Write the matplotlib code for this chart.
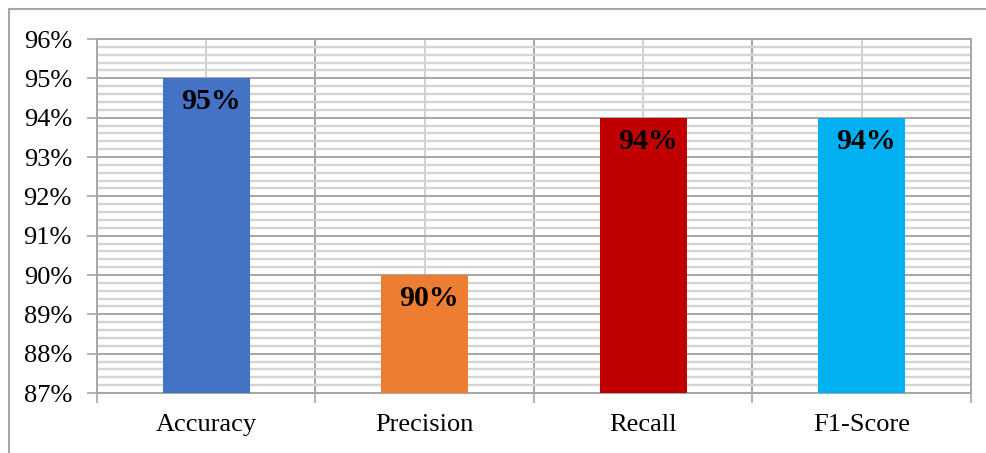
import numpy as np
from matplotlib import pyplot as plt
from matplotlib.lines import Line2D
from matplotlib.ticker import MultipleLocator, FixedLocator

metrics = ['Accuracy', 'Precision', 'Recall', 'F1-Score']
scores = [95, 90, 94, 94]
bar_colors = ['#4472C4', '#ED7D31', '#C00000', '#00B0F0']
y_ticks = [87, 88, 89, 90, 91, 92, 93, 94, 95, 96]

plt.rcParams['font.family'] = ['Liberation Serif', 'DejaVu Serif']

fig = plt.figure(figsize=(9.87, 4.53), dpi=100)
ax = fig.add_axes([97 / 987, 1 - 393 / 453, (971 - 97) / 987, (393 - 39) / 453])

x = np.arange(len(metrics))
ax.bar(x, scores, width=0.4, color=bar_colors, zorder=3)

for xi, v in zip(x, scores):
    ax.text(xi + 0.02, v - 0.6, '%d%%' % v, ha='center', va='center',
            fontsize=21.5, fontweight='bold', color='black', zorder=4)

ax.set_xlim(-0.5, len(metrics) - 0.5)
ax.set_ylim(87, 96)
ax.set_yticks(y_ticks)
ax.set_yticklabels(['%d%%' % t for t in y_ticks], fontsize=19)
ax.yaxis.set_minor_locator(MultipleLocator(0.2))

ax.set_xticks(x)
ax.set_xticklabels(metrics, fontsize=19)
ax.xaxis.set_minor_locator(FixedLocator(np.arange(-0.5, len(metrics), 1.0)))

# excel-like grid
ax.set_axisbelow(True)
ax.grid(True, axis='y', which='major', color='#a6a6a6', linewidth=1.4)
ax.grid(True, axis='y', which='minor', color='#d4d4d4', linewidth=1.7)
ax.grid(True, axis='x', which='major', color='#d0d0d0', linewidth=1.4)
ax.grid(True, axis='x', which='minor', color='#a6a6a6', linewidth=1.4)

ax.tick_params(axis='y', which='major', length=7, width=1.2, color='#a6a6a6', pad=11)
ax.tick_params(axis='y', which='minor', length=0)
ax.tick_params(axis='x', which='major', length=0, pad=15)
ax.tick_params(axis='x', which='minor', length=7, width=1.2, color='#a6a6a6')

for side in ['left', 'right', 'top', 'bottom']:
    ax.spines[side].set_color('#a6a6a6')
    ax.spines[side].set_linewidth(1.4)

# chart area border (only left and top edges visible)
fig.add_artist(Line2D([9 / 987, 9 / 987], [0, 1 - 9 / 453], color='#a6a6a6', linewidth=1.5))
fig.add_artist(Line2D([9 / 987, 1], [1 - 9 / 453, 1 - 9 / 453], color='#a6a6a6', linewidth=1.5))

plt.savefig('out.png', dpi=100)
